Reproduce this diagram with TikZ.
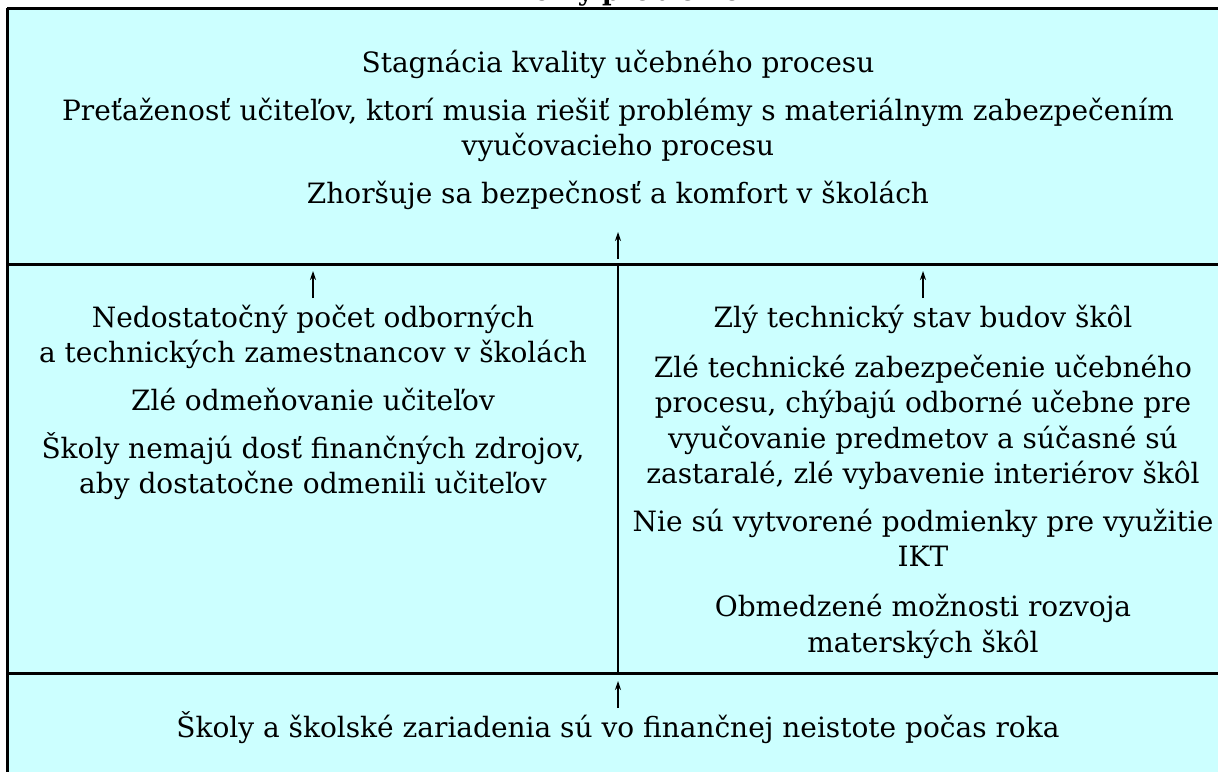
\documentclass[tikz,border=0pt]{standalone}
\usepackage{fontspec}
\setmainfont{DejaVu Serif}
\usetikzlibrary{arrows.meta}
\definecolor{boxcyan}{HTML}{CCFFFF}
\tikzset{
  line/.style={anchor=base, inner sep=0pt, font=\fontsize{28}{35}\selectfont},
  frame/.style={line width=3pt, black},
  divider/.style={line width=1.8pt, black},
  uparrow/.style={line width=1.3pt, -{Stealth[length=9pt,width=6pt]}},
}
\begin{document}
\begin{tikzpicture}[x=1pt,y=-1pt]
\clip (0,0) rectangle (1218,771);
\fill[boxcyan] (7,8) rectangle (1240,800);
% title (clipped at top, as in the reference)
\node[anchor=base, inner sep=0pt, font=\fontsize{26}{30}\selectfont\bfseries] (title) at (623,1) {Príčiny problémov};
% frame lines
\draw[frame] (7,8) -- (1240,8);
\draw[frame] (7,8) -- (7,800);
\draw[frame] (7,264) -- (1240,264);
\draw[frame] (7,673) -- (1240,673);
\draw[divider] (618,264) -- (618,673);
% top section
\node[line] (t1) at (618,72) {Stagnácia kvality učebného procesu};
\node[line] (t2a) at (618,120) {Preťaženosť učiteľov, ktorí musia riešiť problémy s materiálnym zabezpečením};
\node[line] (t2b) at (618,155) {vyučovacieho procesu};
\node[line] (t3) at (618,203) {Zhoršuje sa bezpečnosť a komfort v školách};
\coordinate (ta0) at (618,259);
\coordinate (ta1) at (618,232);
\draw[uparrow] (ta0) -- (ta1);
% left column
\coordinate (la0) at (313,298);
\coordinate (la1) at (313,271);
\draw[uparrow] (la0) -- (la1);
\node[line] (l1a) at (313,327) {Nedostatočný počet odborných};
\node[line] (l1b) at (313,362) {a technických zamestnancov v školách};
\node[line] (l2) at (313,410) {Zlé odmeňovanie učiteľov};
\node[line] (l3a) at (313,458) {Školy nemajú dosť finančných zdrojov,};
\node[line] (l3b) at (313,493) {aby dostatočne odmenili učiteľov};
% right column
\coordinate (ra0) at (923,298);
\coordinate (ra1) at (923,271);
\draw[uparrow] (ra0) -- (ra1);
\node[line] (r1) at (923,327) {Zlý technický stav budov škôl};
\node[line] (r2a) at (923,377) {Zlé technické zabezpečenie učebného};
\node[line] (r2b) at (923,412) {procesu, chýbajú odborné učebne pre};
\node[line] (r2c) at (923,448) {vyučovanie predmetov a súčasné sú};
\node[line] (r2d) at (923,483) {zastaralé, zlé vybavenie interiérov škôl};
\node[line] (r3a) at (923,531) {Nie sú vytvorené podmienky pre využitie};
\node[line] (r3b) at (923,566) {IKT};
\node[line] (r4a) at (923,616) {Obmedzené možnosti rozvoja};
\node[line] (r4b) at (923,652) {materských škôl};
% bottom section
\coordinate (ba0) at (618,708);
\coordinate (ba1) at (618,681);
\draw[uparrow] (ba0) -- (ba1);
\node[line] (b1) at (618,737) {Školy a školské zariadenia sú vo finančnej neistote počas roka};
\end{tikzpicture}
\end{document}
